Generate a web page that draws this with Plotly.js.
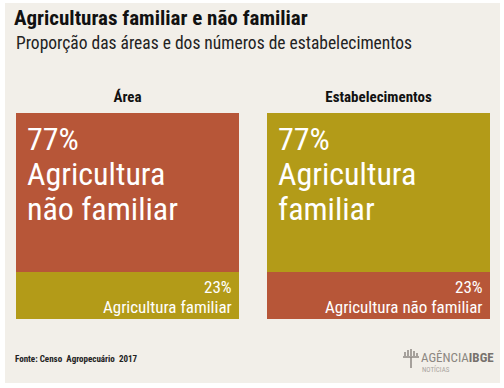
<!DOCTYPE html>
<html><head><meta charset="utf-8">
<script src="https://cdn.plot.ly/plotly-3.0.1.min.js"></script>
<style>html,body{margin:0;padding:0;background:#fff}#c{width:504px;height:388px}</style>
</head><body><div id="c"></div>
<script>
const panels = ['Área', 'Estabelecimentos'];
const familiar = [23, 77];
const naoFamiliar = [77, 23];
const seriesNames = ['Agricultura familiar', 'Agricultura não familiar'];
const titleText = 'Agriculturas familiar e não familiar';
const subtitleText = 'Proporção das áreas e dos números de estabelecimentos';
const sourceText = 'Fonte: Censo  Agropecuário  2017';

const FONT = '"Liberation Sans Narrow", "Roboto Condensed", "DejaVu Sans Condensed", "Arial Narrow", sans-serif';
const RUST = '#b75638';
const OLIVE = '#b39b18';
const BG = '#f2efe9';
const H = 388, W = 504;
const py = p => 1 - p / H;
const px = p => p / W;

const axSuffix = ['', '2'];
const traces = [];
panels.forEach((p, i) => {
  const xa = 'x' + axSuffix[i], ya = 'y' + axSuffix[i];
  const bottomIsFam = familiar[i] < naoFamiliar[i];
  const order = bottomIsFam ? [0, 1] : [1, 0];
  order.forEach(k => {
    traces.push({
      type: 'bar', x: [p], y: [k === 0 ? familiar[i] : naoFamiliar[i]],
      name: seriesNames[k], xaxis: xa, yaxis: ya,
      marker: {color: k === 0 ? OLIVE : RUST, line: {width: 0}},
      width: 1, hoverinfo: 'skip', showlegend: false
    });
  });
});

const annotations = [];
panels.forEach((p, i) => {
  const xr = 'x' + axSuffix[i], yr = 'y' + axSuffix[i];
  const big = familiar[i] > naoFamiliar[i] ? 0 : 1;
  const small = 1 - big;
  const bigVal = big === 0 ? familiar[i] : naoFamiliar[i];
  const smallVal = small === 0 ? familiar[i] : naoFamiliar[i];
  const nm = seriesNames[big];
  const sp = nm.indexOf(' ');
  const lines = [bigVal + '%', nm.slice(0, sp), nm.slice(sp + 1)];
  const total = familiar[i] + naoFamiliar[i];
  lines.forEach((t, j) => {
    annotations.push({xref: xr, yref: yr, x: -0.5, y: total, xanchor: 'left', yanchor: 'middle',
      xshift: 9, yshift: -(26 + 35 * j), text: t, showarrow: false,
      font: {family: FONT, size: 32, color: '#ffffff'}});
  });
  [smallVal + '%', seriesNames[small]].forEach((t, j) => {
    annotations.push({xref: xr, yref: yr, x: 0.5, y: 0, xanchor: 'right', yanchor: 'middle',
      xshift: -5, yshift: 32 - 20 * j, text: t, showarrow: false,
      font: {family: FONT, size: 17, color: '#ffffff'}});
  });
});

annotations.push({xref: 'paper', yref: 'paper', x: px(14), y: py(43), xanchor: 'left', yanchor: 'middle',
  text: subtitleText, showarrow: false, font: {family: FONT, size: 17.5, color: '#222'}});
annotations.push({xref: 'paper', yref: 'paper', x: px(13), y: py(359), xanchor: 'left', yanchor: 'middle',
  text: sourceText, showarrow: false, font: {family: FONT, size: 9, color: '#222', weight: 'bold'}});
annotations.push({xref: 'paper', yref: 'paper', x: px(496), y: py(357), xanchor: 'right', yanchor: 'middle',
  text: '<span style="color:#8c8782">AGÊNCIA</span><b style="color:#77726d">IBGE</b>', showarrow: false,
  font: {family: FONT, size: 13, color: '#8c8782'}});
annotations.push({xref: 'paper', yref: 'paper', x: px(420), y: py(369), xanchor: 'left', yanchor: 'middle',
  text: 'NOTÍCIAS', showarrow: false, font: {family: FONT, size: 7, color: '#aaa59f'}});

const shapes = [
  {type: 'rect', xref: 'paper', yref: 'paper', x0: px(5), x1: px(500), y0: py(383), y1: py(3),
   fillcolor: BG, line: {width: 0}, layer: 'below'}
];
const bars = [[405,356,352],[408,356,350],[411,356,349],[414,356,351],[417,356,353]];
bars.forEach(b => shapes.push({type: 'line', xref: 'paper', yref: 'paper', x0: px(b[0]), x1: px(b[0]),
  y0: py(b[1]), y1: py(b[2]), line: {color: '#8c8782', width: 1.5}}));
shapes.push({type: 'line', xref: 'paper', yref: 'paper', x0: px(403), x1: px(419), y0: py(357), y1: py(357), line: {color: '#8c8782', width: 1.5}});
shapes.push({type: 'line', xref: 'paper', yref: 'paper', x0: px(411), x1: px(411), y0: py(357), y1: py(368), line: {color: '#8c8782', width: 1.5}});

const axX = d => ({domain: d, side: 'top', type: 'category', range: [-0.5, 0.5], showgrid: false, zeroline: false,
  showline: false, ticks: '', ticklabelstandoff: 7, tickfont: {family: FONT, size: 15, color: '#111', weight: 'bold'}, fixedrange: true});
const axY = (d, anchor) => ({domain: d, range: [0, 100], showgrid: false, zeroline: false, showticklabels: false,
  showline: false, ticks: '', anchor: anchor, fixedrange: true});

const layout = {
  width: W, height: H, margin: {l: 0, r: 0, t: 0, b: 0},
  paper_bgcolor: '#ffffff', plot_bgcolor: 'rgba(0,0,0,0)',
  barmode: 'stack', bargap: 0, showlegend: false,
  title: {text: titleText, x: px(14), xanchor: 'left', xref: 'paper', y: py(18), yref: 'paper', yanchor: 'middle',
    font: {family: FONT, size: 21, color: '#111', weight: 'bold'}},
  xaxis: Object.assign(axX([px(16), px(239)]), {anchor: 'y'}),
  yaxis: axY([py(319), py(113)], 'x'),
  xaxis2: Object.assign(axX([px(267), px(490)]), {anchor: 'y2'}),
  yaxis2: axY([py(319), py(113)], 'x2'),
  annotations: annotations, shapes: shapes
};
Plotly.newPlot('c', traces, layout, {displayModeBar: false, staticPlot: true});
</script></body></html>
